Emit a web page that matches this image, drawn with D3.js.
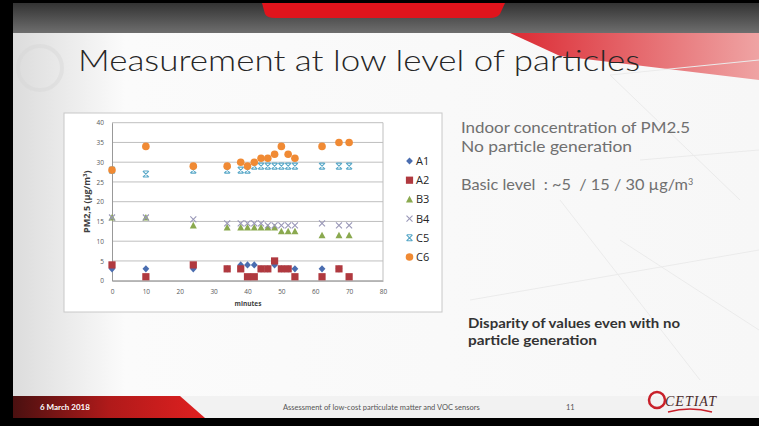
<!DOCTYPE html>
<html><head><meta charset="utf-8">
<script src="https://cdn.jsdelivr.net/npm/d3@7"></script>
<style>html,body{margin:0;padding:0;background:#000;}svg{display:block;} text{white-space:pre;}</style>
</head><body>
<svg id="c" width="759" height="426"></svg>
<script>
const minutes = [0,10,24,34,38,40,42,44,46,48,50,52,54,62,67,70];
const A1 = [3,3,3,3,4,4,4,3,3,4,3,3,3,3,3,null];
const A2 = [4,1,4,3,3,1,1,3,3,5,3,3,1,1,3,1];
const B3 = [16,16,14,13.5,13.5,13.5,13.5,13.5,13.5,13.5,12.5,12.5,12.5,11.5,11.5,11.5];
const B4 = [16,16,15.5,14.5,14.5,14.5,14.5,14.5,14,14,14,14,14,14.5,14,14];
const C5 = [28,27,28,28,28,28,29,29,29,29,29,29,29,29,29,29];
const C6 = [28,34,29,29,30,29,30,31,31,32,34,32,31,34,35,35];
const seriesNames = ["A1","A2","B3","B4","C5","C6"];
const xTicks = [0,10,20,30,40,50,60,70,80];
const yTicks = [0,5,10,15,20,25,30,35,40];

const svg = d3.select("#c");
const defs = svg.append("defs");
const bgGrad = defs.append("linearGradient").attr("id","bg").attr("x1",0).attr("x2",1).attr("y1",0).attr("y2",0);
bgGrad.append("stop").attr("offset","0").attr("stop-color","#dcdcdc");
bgGrad.append("stop").attr("offset","0.15").attr("stop-color","#fbfbfb");
bgGrad.append("stop").attr("offset","1").attr("stop-color","#f7f7f7");
const topGrad = defs.append("linearGradient").attr("id","topg").attr("x1",0).attr("x2",0).attr("y1",0).attr("y2",1);
topGrad.append("stop").attr("offset","0").attr("stop-color","#333");
topGrad.append("stop").attr("offset","1").attr("stop-color","#6e6e6e");
const redGrad = defs.append("linearGradient").attr("id","redg").attr("x1",0).attr("x2",1).attr("y1",0).attr("y2",0);
redGrad.append("stop").attr("offset","0").attr("stop-color","#d8141e");
redGrad.append("stop").attr("offset","1").attr("stop-color","#ee9a9a");
const footGrad = defs.append("linearGradient").attr("id","footg").attr("x1",0).attr("x2",1).attr("y1",0).attr("y2",0);
footGrad.append("stop").attr("offset","0").attr("stop-color","#4a1010");
footGrad.append("stop").attr("offset","0.5").attr("stop-color","#b01a1a");
footGrad.append("stop").attr("offset","1").attr("stop-color","#e02020");

// slide background
svg.append("rect").attr("x",0).attr("y",0).attr("width",759).attr("height",426).attr("fill","#000");
svg.append("rect").attr("x",13).attr("y",3).attr("width",746).attr("height",415).attr("fill","url(#bg)");
// top band
svg.append("rect").attr("x",13).attr("y",3).attr("width",746).attr("height",30).attr("fill","url(#topg)");
svg.append("path").attr("d","M262,3 L505,3 L500,14 Q497,18 490,18 L275,18 Q267,18 265,14 Z").attr("fill","#e0141c");
svg.append("path").attr("d","M510,33 L759,33 L759,80 L560,56 Z").attr("fill","url(#redg)").attr("opacity",0.9);
// faint decorative lines
const deco = svg.append("g").attr("stroke","#ebebeb").attr("stroke-width",1).attr("fill","none");
[[610,75,759,60],[610,75,740,200],[640,160,759,150],[620,240,759,330],[470,300,759,250],[560,200,700,380]].forEach(d=>deco.append("line").attr("x1",d[0]).attr("y1",d[1]).attr("x2",d[2]).attr("y2",d[3]));
// faint emblem at left
svg.append("circle").attr("cx",40).attr("cy",68).attr("r",22).attr("fill","none").attr("stroke","#d4d4d4").attr("stroke-width",4).attr("opacity",0.4);

// title
svg.append("text").attr("x",78).attr("y",71).attr("font-family","Lato, 'Open Sans', sans-serif").attr("font-weight",300).attr("font-size",29).attr("fill","#262626").attr("textLength",562).attr("lengthAdjust","spacingAndGlyphs").text("Measurement at low level of particles");

// right text
const rt = svg.append("g").attr("font-family","Lato, 'Open Sans', sans-serif").attr("fill","#707070").attr("font-size",15);
rt.append("text").attr("x",461).attr("y",133).attr("textLength",229).attr("lengthAdjust","spacingAndGlyphs").text("Indoor concentration of PM2.5");
rt.append("text").attr("x",461).attr("y",152).attr("textLength",171).attr("lengthAdjust","spacingAndGlyphs").text("No particle generation");
const bl = rt.append("text").attr("x",461).attr("y",190);
bl.append("tspan").attr("textLength",227).attr("lengthAdjust","spacingAndGlyphs").text("Basic level  : ~5  / 15 / 30 µg/m");
bl.append("tspan").attr("dy",-5).attr("font-size",9).text("3");
const dt = svg.append("g").attr("font-family","Lato, 'Open Sans', sans-serif").attr("font-weight","bold").attr("fill","#333").attr("font-size",13.5);
dt.append("text").attr("x",468).attr("y",328).attr("textLength",212).attr("lengthAdjust","spacingAndGlyphs").text("Disparity of values even with no");
dt.append("text").attr("x",468).attr("y",345).attr("textLength",129).attr("lengthAdjust","spacingAndGlyphs").text("particle generation");

// footer
svg.append("rect").attr("x",13).attr("y",396).attr("width",746).attr("height",22).attr("fill","#f2f2f2");
svg.append("path").attr("d","M13,396 L180,396 L205,418 L13,418 Z").attr("fill","url(#footg)");
svg.append("text").attr("x",40).attr("y",410).attr("font-family","Lato, sans-serif").attr("font-weight","bold").attr("font-size",8).attr("fill","#fff").text("6 March 2018");
svg.append("text").attr("x",283).attr("y",410).attr("font-family","Lato, sans-serif").attr("font-size",7.5).attr("fill","#555").text("Assessment of low-cost particulate matter and VOC sensors");
svg.append("text").attr("x",566).attr("y",410).attr("font-family","Lato, sans-serif").attr("font-size",7.5).attr("fill","#555").text("11");
svg.append("circle").attr("cx",657).attr("cy",400).attr("r",8).attr("fill","none").attr("stroke","#c8202a").attr("stroke-width",2.5);
svg.append("text").attr("x",665).attr("y",406).attr("font-family","'Liberation Serif', serif").attr("font-style","italic").attr("font-size",14).attr("letter-spacing",1).attr("fill","#4a2a2a").text("CETIAT");
svg.append("path").attr("d","M668,412 Q690,406 712,412").attr("stroke","#c8202a").attr("fill","none").attr("stroke-width",1.5);

// chart box
svg.append("rect").attr("x",64).attr("y",113).attr("width",378).attr("height",199).attr("fill","#fff").attr("stroke","#c8c8c8");

const x = d3.scaleLinear().domain([0,80]).range([112,383]);
const y = d3.scaleLinear().domain([0,40]).range([280.7,122.7]);
const ch = svg.append("g").attr("font-family","'Open Sans', 'Liberation Sans', sans-serif");

// grid
ch.append("g").selectAll("line").data(yTicks).join("line")
  .attr("x1",x(0)).attr("x2",x(80)).attr("y1",d=>y(d)).attr("y2",d=>y(d))
  .attr("stroke","#bfbfbf").attr("stroke-width",1);
ch.append("line").attr("x1",x(80)).attr("x2",x(80)).attr("y1",y(0)).attr("y2",y(40)).attr("stroke","#bfbfbf");
const yAxis = ch.append("g").attr("transform",`translate(${x(0)},0)`).call(d3.axisLeft(y).tickValues(yTicks).tickSize(0).tickPadding(8));
yAxis.select(".domain").attr("stroke","#999");
yAxis.selectAll("text").attr("font-size",6.5).attr("fill","#595959").attr("font-family","'Open Sans', sans-serif");
const xAxis = ch.append("g").attr("transform",`translate(0,${y(0)})`).call(d3.axisBottom(x).tickValues(xTicks).tickSize(0).tickPadding(9));
xAxis.select(".domain").attr("stroke","#999");
xAxis.selectAll("text").attr("font-size",6.5).attr("fill","#595959").attr("font-family","'Open Sans', sans-serif");

ch.append("text").attr("x",248).attr("y",306).attr("text-anchor","middle").attr("font-size",6.5).attr("font-weight","bold").attr("fill","#404040").text("minutes");
const yt = ch.append("text").attr("transform",`translate(90,${y(20)}) rotate(-90)`).attr("text-anchor","middle").attr("font-size",9).attr("font-weight","bold").attr("fill","#404040");
yt.append("tspan").text("PM2,5 (µg/m");
yt.append("tspan").attr("dy",-3).attr("font-size",6).text("3");
yt.append("tspan").attr("dy",3).text(")");

const colors = {A1:"#4a6db0",A2:"#b0393f",B3:"#8aa94f",B4:"#9a98b8",C5:"#58a8c8",C6:"#f08a34"};
const data = {A1,A2,B3,B4,C5,C6};

function marker(g, name, cx, cy){
  const c = colors[name];
  if(name==="A1") g.append("path").attr("d",`M${cx},${cy-3.6}L${cx+3.4},${cy}L${cx},${cy+3.6}L${cx-3.4},${cy}Z`).attr("fill",c);
  else if(name==="A2") g.append("rect").attr("x",cx-3.6).attr("y",cy-3.6).attr("width",7.2).attr("height",7.2).attr("fill",c);
  else if(name==="B3") g.append("path").attr("d",`M${cx},${cy-3.6}L${cx+3.5},${cy+3}L${cx-3.5},${cy+3}Z`).attr("fill",c);
  else if(name==="B4") g.append("path").attr("d",`M${cx-3},${cy-3}L${cx+3},${cy+3}M${cx+3},${cy-3}L${cx-3},${cy+3}`).attr("stroke",c).attr("stroke-width",1.1);
  else if(name==="C5") g.append("path").attr("d",`M${cx-3},${cy-3}L${cx+3},${cy+3}M${cx+3},${cy-3}L${cx-3},${cy+3}M${cx-2.5},${cy-3}L${cx+2.5},${cy-3}M${cx-2.5},${cy+3}L${cx+2.5},${cy+3}`).attr("stroke",c).attr("stroke-width",1.1);
  else g.append("circle").attr("cx",cx).attr("cy",cy).attr("r",3.8).attr("fill",c);
}

const pts = ch.append("g");
seriesNames.forEach(name=>{
  const g = pts.append("g");
  data[name].forEach((v,i)=>{ if(v!==null) marker(g,name,x(minutes[i]),y(v)); });
});

// legend
const lg = ch.append("g");
seriesNames.forEach((name,i)=>{
  const ly = 161 + i*19.2;
  marker(lg,name,409.5,ly);
  lg.append("text").attr("x",416).attr("y",ly+4).attr("font-size",11).attr("fill","#262626").text(name);
});
</script>
</body></html>
